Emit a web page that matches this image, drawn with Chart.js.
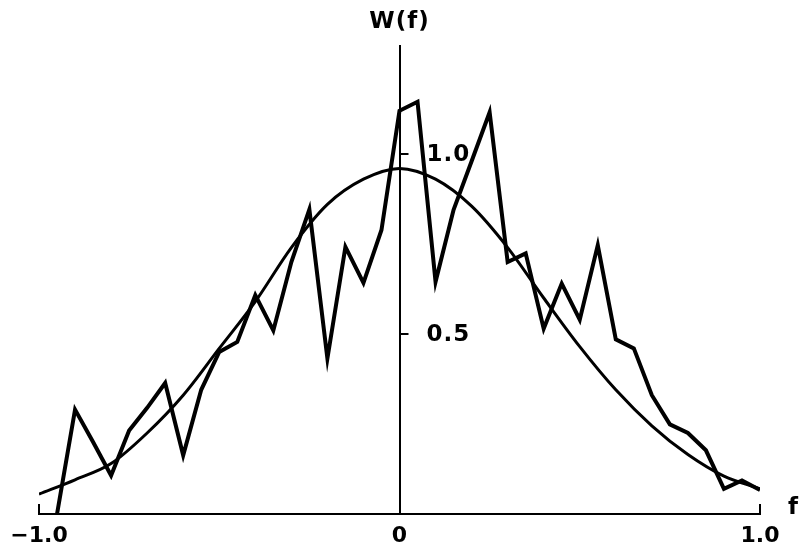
<!DOCTYPE html>
<html>
<head>
<meta charset="utf-8">
<script src="https://cdn.jsdelivr.net/npm/chart.js@4.4.1/dist/chart.umd.min.js"></script>
<style>
  body { margin: 0; background: #fff; }
  canvas { display: block; }
</style>
</head>
<body>
<canvas id="chart" width="802" height="551"></canvas>
<script>
// measured spectrum, sampled every 0.05 in f
const fMeasured = [-0.95, -0.90, -0.85, -0.80, -0.75, -0.70, -0.65, -0.60, -0.55, -0.50,
                   -0.45, -0.40, -0.35, -0.30, -0.25, -0.20, -0.15, -0.10, -0.05, 0.00,
                    0.05, 0.10, 0.15, 0.20, 0.25, 0.30, 0.35, 0.40, 0.45, 0.50,
                    0.55, 0.60, 0.65, 0.70, 0.75, 0.80, 0.85, 0.90, 0.95, 1.00];
const wMeasured = [0.00, 0.29, 0.20, 0.107, 0.232, 0.295, 0.364, 0.163, 0.345, 0.45,
                   0.478, 0.608, 0.51, 0.70, 0.846, 0.432, 0.742, 0.642, 0.789, 1.12,
                   1.145, 0.645, 0.845, 0.98, 1.116, 0.70, 0.724, 0.515, 0.64, 0.54,
                   0.747, 0.485, 0.46, 0.33, 0.249, 0.225, 0.177, 0.07, 0.093, 0.067];

// smooth theoretical curve
const fTheory = [-1.0, -0.9, -0.8, -0.7, -0.6, -0.5, -0.4, -0.3, -0.2, -0.1, 0.0,
                  0.1, 0.2, 0.3, 0.4, 0.5, 0.6, 0.7, 0.8, 0.9, 1.0];
const wTheory = [0.055, 0.095, 0.14, 0.225, 0.33, 0.46, 0.59, 0.74, 0.86, 0.93, 0.96,
                 0.93, 0.855, 0.74, 0.60, 0.465, 0.345, 0.245, 0.165, 0.105, 0.07];

const xTickValues = [-1, 0, 1];
const xTickLabels = ['\u22121.0', '0', '1.0'];
const yTickValues = [0.5, 1.0];
const yTickLabels = ['0.5', '1.0'];
const xTitle = 'f';
const yTitle = 'W(f)';

const FONT = '"DejaVu Sans", sans-serif';

function toPoints(xs, ys) {
    var pts = [];
    for (var i = 0; i < xs.length; i++) pts.push({x: xs[i], y: ys[i]});
    return pts;
}

// y ticks point to the right of the centre axis, plus end ticks and titles
const axisMarks = {
    id: 'axisMarks',
    afterDraw(chart) {
        const ctx = chart.ctx;
        const x = chart.scales.x, y = chart.scales.y;
        const x0 = x.getPixelForValue(0);
        const yBase = y.getPixelForValue(0);
        ctx.save();
        ctx.strokeStyle = '#000';
        ctx.fillStyle = '#000';
        ctx.lineWidth = 2;
        ctx.font = 'bold 23px ' + FONT;
        ctx.letterSpacing = '1px';
        yTickValues.forEach((v, i) => {
            const py = y.getPixelForValue(v);
            ctx.beginPath();
            ctx.moveTo(x0, py);
            ctx.lineTo(x0 + 9, py);
            ctx.stroke();
            ctx.textAlign = 'left';
            ctx.textBaseline = 'middle';
            ctx.fillText(yTickLabels[i], x0 + 27, py + 1);
        });
        [x.min, x.max].forEach(v => {
            const px = x.getPixelForValue(v);
            ctx.beginPath();
            ctx.moveTo(px, yBase);
            ctx.lineTo(px, yBase - 10);
            ctx.stroke();
        });
        ctx.textBaseline = 'alphabetic';
        ctx.textAlign = 'left';
        ctx.fillText(xTitle, x.right + 28, yBase);
        ctx.textAlign = 'center';
        ctx.fillText(yTitle, x0, 28);
        ctx.restore();
    }
};

new Chart(document.getElementById('chart').getContext('2d'), {
    type: 'line',
    data: {
        datasets: [{
            data: toPoints(fMeasured, wMeasured),
            borderColor: '#000',
            borderWidth: 4,
            borderJoinStyle: 'miter',
            pointRadius: 0,
            tension: 0
        }, {
            data: toPoints(fTheory, wTheory),
            borderColor: '#000',
            borderWidth: 3,
            pointRadius: 0,
            cubicInterpolationMode: 'monotone'
        }]
    },
    options: {
        responsive: false,
        animation: false,
        devicePixelRatio: 1,
        layout: {
            padding: {left: 39, right: 42, top: 46, bottom: 0}
        },
        plugins: {
            legend: {display: false},
            tooltip: {enabled: false}
        },
        scales: {
            x: {
                type: 'linear',
                min: -1,
                max: 1,
                position: 'bottom',
                grid: {display: false, drawTicks: false},
                border: {display: true, color: '#000', width: 2},
                afterBuildTicks: s => { s.ticks = xTickValues.map(v => ({value: v})); },
                afterFit: s => { s.height = 37; },
                ticks: {
                    color: '#000',
                    padding: 9,
                    maxRotation: 0,
                    font: {family: FONT, size: 22, weight: 'bold'},
                    callback: v => xTickLabels[xTickValues.indexOf(v)]
                }
            },
            y: {
                type: 'linear',
                min: 0,
                max: 1.3,
                position: {x: 0},
                grid: {display: false, drawTicks: false},
                border: {display: true, color: '#000', width: 2},
                ticks: {display: false}
            }
        }
    },
    plugins: [axisMarks]
});
</script>
</body>
</html>
